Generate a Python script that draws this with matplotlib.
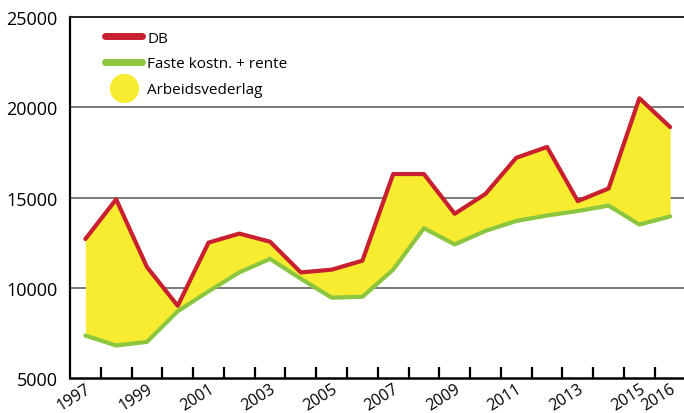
import numpy as np
import matplotlib.pyplot as plt
from matplotlib.lines import Line2D

plt.rcParams['font.family'] = ['Open Sans', 'DejaVu Sans']

# ---------- data
years = list(range(1997, 2017))
db = [12700, 14900, 11150, 9000, 12500, 13000, 12550, 10850, 11000, 11500,
      16300, 16300, 14100, 15200, 17200, 17800, 14800, 15500, 20500, 18900]
faste = [7350, 6800, 7000, 8700, 9800, 10850, 11600, 10500, 9450, 9500,
         11000, 13300, 12400, 13150, 13700, 14000, 14250, 14550, 13500, 13950]
year_labels = [1997, 1999, 2001, 2003, 2005, 2007, 2009, 2011, 2013, 2015, 2016]
y_ticks = [5000, 10000, 15000, 20000, 25000]

red = '#c8202f'
green = '#8cc63f'
yellow = '#f7ec2f'

# ---------- plot
fig = plt.figure(figsize=(6.84, 4.14), dpi=100)
ax = fig.add_axes([70 / 684, 35 / 414, 614 / 684, 361 / 414])

ax.fill_between(years, faste, db, color=yellow, lw=0, zorder=1)
ax.plot(years, db, color=red, lw=3, solid_capstyle='round', zorder=3)
ax.plot(years, faste, color=green, lw=3, solid_capstyle='round', zorder=4)

ax.set_xlim(1996.5, 2016.45)
ax.set_ylim(5000, 25000)

# grid lines
for v in y_ticks[1:-1]:
    ax.axhline(v, color='#6e6e6e', lw=1.3, zorder=0)

ax.spines['right'].set_visible(False)
ax.spines['top'].set_color('#222222')
ax.spines['top'].set_linewidth(1.4)
ax.spines['left'].set_linewidth(1.6)
ax.spines['bottom'].set_linewidth(1.8)

ax.set_yticks(y_ticks)
ax.set_yticklabels([str(v) for v in y_ticks], fontsize=13)
ax.tick_params(axis='y', length=0, pad=9)

ax.set_xticks(year_labels)
ax.set_xticklabels([str(y) for y in year_labels], fontsize=11.5, rotation=32,
                   ha='right', va='top', rotation_mode='anchor')
ax.set_xticks(np.arange(1997.5, 2016, 1), minor=True)
ax.tick_params(axis='x', which='major', length=0, pad=2)
ax.tick_params(axis='x', which='minor', direction='in', length=8, width=1.6)

handles = [
    Line2D([], [], color=red, lw=5, solid_capstyle='round'),
    Line2D([], [], color=green, lw=5, solid_capstyle='round'),
    Line2D([], [], color=yellow, lw=0, marker='o', markersize=20),
]
ax.legend(handles, ['DB', 'Faste kostn. + rente', 'Arbeidsvederlag'],
          loc='upper left', bbox_to_anchor=(0.035, 1.0), frameon=False,
          fontsize=11, handlelength=2.4, handletextpad=0.35, labelspacing=0.7)

plt.savefig('out.png', dpi=100)
